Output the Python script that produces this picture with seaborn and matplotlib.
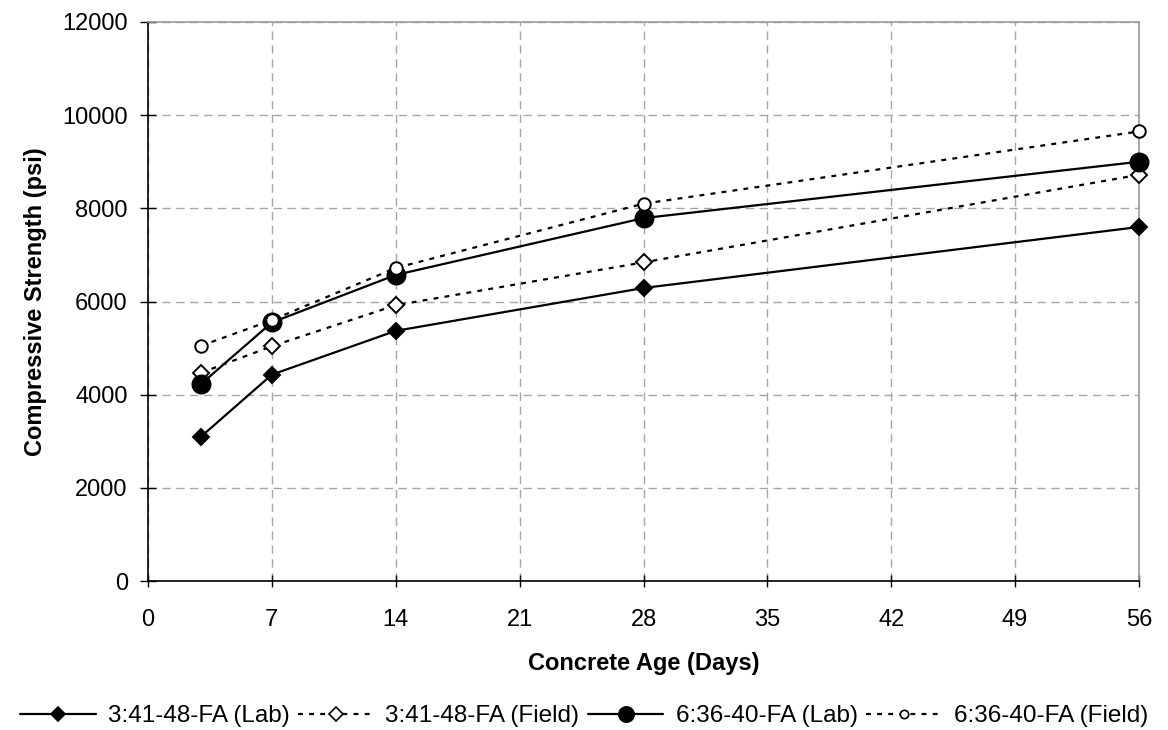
import matplotlib
matplotlib.use("Agg")
import matplotlib.pyplot as plt
import pandas as pd
import seaborn as sns

# Values.
days = [3, 7, 14, 28, 56]
lab_341 = [3100, 4430, 5370, 6290, 7600]
field_341 = [4470, 5040, 5920, 6840, 8720]
lab_636 = [4230, 5550, 6570, 7790, 9000]
field_636 = [5050, 5600, 6720, 8100, 9650]

series_names = [
	"3:41-48-FA (Lab)",
	"3:41-48-FA (Field)",
	"6:36-40-FA (Lab)",
	"6:36-40-FA (Field)",
]
series_values = [lab_341, field_341, lab_636, field_636]

x_ticks = [0, 7, 14, 21, 28, 35, 42, 49, 56]
y_ticks = [0, 2000, 4000, 6000, 8000, 10000, 12000]

# Long-form table for seaborn.
rows = []
for name, values in zip(series_names, series_values):
	for d, v in zip(days, values):
		rows.append({"Age": d, "Strength": v, "Series": name})
df = pd.DataFrame(rows)

sns.set_theme(style="white")
plt.rcParams["font.family"] = ["Liberation Sans", "DejaVu Sans"]
plt.rcParams["text.color"] = "black"
plt.rcParams["axes.labelcolor"] = "black"
plt.rcParams["xtick.color"] = "black"
plt.rcParams["ytick.color"] = "black"

dotted = (0, (2.2, 2.8))
styles = {
	"3:41-48-FA (Lab)": dict(linestyle="-", marker="D", markersize=8, markerfacecolor="black"),
	"3:41-48-FA (Field)": dict(linestyle=dotted, marker="D", markersize=8, markerfacecolor="white"),
	"6:36-40-FA (Lab)": dict(linestyle="-", marker="o", markersize=13, markerfacecolor="black"),
	"6:36-40-FA (Field)": dict(linestyle=dotted, marker="o", markersize=9, markerfacecolor="white"),
}

fig = plt.figure(figsize=(11.68, 7.30), dpi=100)
ax = fig.add_axes([148 / 1168, 1 - 581 / 730, (1139 - 148) / 1168, (581 - 22) / 730])

for name in series_names:
	sub = df[df["Series"] == name]
	st = styles[name]
	sns.lineplot(
		data=sub,
		x="Age",
		y="Strength",
		ax=ax,
		color="black",
		linewidth=1.6,
		linestyle=st["linestyle"],
		marker=st["marker"],
		markersize=st["markersize"],
		markerfacecolor=st["markerfacecolor"],
		markeredgecolor="black",
		markeredgewidth=1.4,
		label=name,
		legend=False,
		clip_on=False,
		zorder=3,
	)

ax.set_xlim(0, 56)
ax.set_ylim(0, 12000)
ax.set_xticks(x_ticks)
ax.set_yticks(y_ticks)
ax.grid(True, color="#a6a6a6", linestyle=(0, (6, 4)), linewidth=1.0)
ax.set_axisbelow(True)

for side in ["left", "bottom"]:
	ax.spines[side].set_color("black")
	ax.spines[side].set_linewidth(1.2)
for side in ["top", "right"]:
	ax.spines[side].set_color("#999999")
	ax.spines[side].set_linewidth(1.2)

ax.tick_params(axis="y", direction="inout", length=11, width=1.0, color="black", labelsize=17, pad=9, left=True)
ax.tick_params(axis="x", direction="inout", length=8, width=1.0, color="black", labelsize=17, pad=16, bottom=True)

ax.set_xlabel("Concrete Age (Days)", fontsize=17, fontweight="bold", labelpad=15)
ax.set_ylabel("Compressive Strength (psi)", fontsize=17, fontweight="bold", labelpad=11)

# Legend along the bottom, one row, no frame.
handles = []
for name in series_names:
	st = styles[name]
	small = 7 if st["marker"] == "D" else (11 if st["markerfacecolor"] == "black" else 6)
	(h,) = ax.plot(
		[], [],
		color="black",
		linewidth=1.6,
		linestyle=st["linestyle"],
		marker=st["marker"],
		markersize=small,
		markerfacecolor=st["markerfacecolor"],
		markeredgecolor="black",
		markeredgewidth=1.2,
	)
	handles.append(h)

fig.legend(
	handles,
	series_names,
	loc="center",
	bbox_to_anchor=(0.5, 1 - 716 / 730),
	ncol=4,
	frameon=False,
	fontsize=17.5,
	handlelength=3.1,
	handletextpad=0.5,
	columnspacing=0.35,
	borderaxespad=0,
	borderpad=0,
)

fig.savefig("out.png", dpi=100)
